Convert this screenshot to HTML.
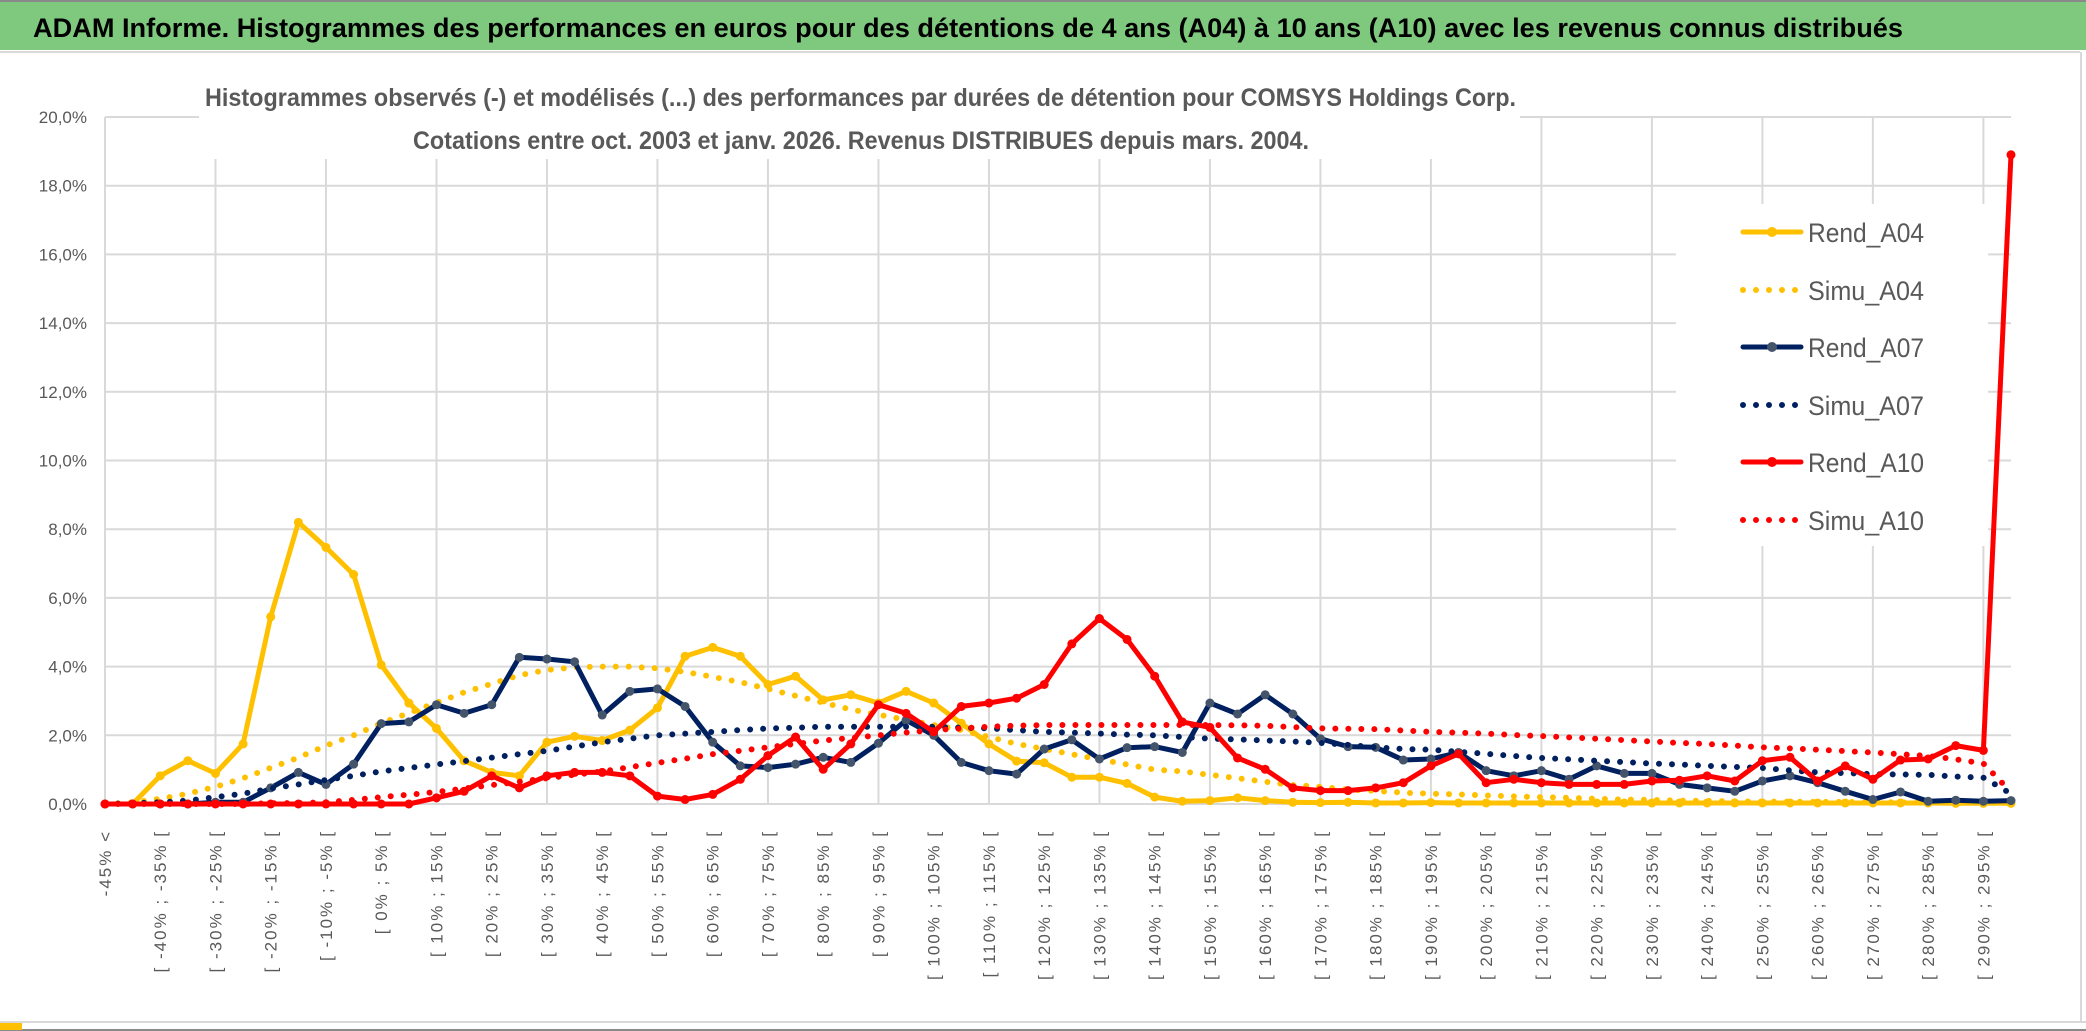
<!DOCTYPE html>
<html><head><meta charset="utf-8"><title>ADAM Informe</title>
<style>
html,body{margin:0;padding:0;background:#fff;}
svg{display:block;font-family:"Liberation Sans",sans-serif;}
</style></head>
<body>
<svg id="chart" width="2086" height="1031" viewBox="0 0 2086 1031" xmlns="http://www.w3.org/2000/svg">
  <rect x="0" y="0" width="2086" height="1031" fill="#ffffff"/>
  <rect x="0" y="0" width="2086" height="50" fill="#7fc97f"/>
  <rect x="0" y="0" width="2086" height="2" fill="#8a8a8a"/>
  <line x1="0" y1="52" x2="2080" y2="52" stroke="#d9d9d9" stroke-width="2"/>
  <text x="33" y="37" font-size="27" font-weight="bold" fill="#000" textLength="1870" lengthAdjust="spacingAndGlyphs">ADAM Informe. Histogrammes des performances en euros pour des détentions de 4 ans (A04) à 10 ans (A10) avec les revenus connus distribués</text>
  <line x1="2081" y1="52" x2="2081" y2="1022" stroke="#d9d9d9" stroke-width="2"/>
  <line x1="0" y1="1022" x2="2086" y2="1022" stroke="#d9d9d9" stroke-width="2"/>
  <line x1="0" y1="1030" x2="2086" y2="1030" stroke="#8a8a8a" stroke-width="2"/>
  <rect x="0" y="1023" width="22" height="7" fill="#ffc000"/>
  <g id="grid"></g>
  <rect x="199" y="60" width="1321" height="99" fill="#fff"/>
  <rect x="1676" y="204" width="312" height="342" fill="#fff"/>
  <g id="yaxis"></g>
  <g id="xaxis"></g>
  <g id="series"></g>
  <text x="205" y="106" font-size="25" font-weight="bold" fill="#595959" textLength="1311" lengthAdjust="spacingAndGlyphs">Histogrammes observés (-) et modélisés (...) des performances par durées de détention pour COMSYS Holdings Corp.</text>
  <text x="413" y="149" font-size="25" font-weight="bold" fill="#595959" textLength="896" lengthAdjust="spacingAndGlyphs">Cotations entre oct. 2003 et janv. 2026. Revenus DISTRIBUES depuis mars. 2004.</text>
  <g id="legend"></g>
</svg>
<script>
const rendA04 = [0,0,0.82,1.26,0.89,1.75,5.45,8.2,7.47,6.68,4.05,2.94,2.2,1.26,0.92,0.82,1.8,1.97,1.85,2.15,2.8,4.3,4.56,4.3,3.48,3.72,3.03,3.18,2.94,3.28,2.94,2.35,1.75,1.25,1.2,0.78,0.78,0.6,0.2,0.08,0.1,0.18,0.1,0.05,0.04,0.05,0.03,0.03,0.04,0.03,0.03,0.03,0.03,0.03,0.03,0.03,0.03,0.03,0.03,0.03,0.03,0.03,0.03,0.03,0.03,0.03,0.03,0.02,0.02,0.02];
const simuA04 = [0,0.05,0.15,0.3,0.5,0.75,1.05,1.35,1.7,2.0,2.35,2.65,2.95,3.25,3.5,3.75,3.9,3.98,4.0,4.0,3.95,3.85,3.7,3.55,3.35,3.15,2.95,2.75,2.6,2.45,2.3,2.15,1.95,1.75,1.6,1.45,1.3,1.15,1.0,0.95,0.85,0.75,0.65,0.55,0.5,0.42,0.38,0.33,0.3,0.28,0.25,0.22,0.2,0.18,0.15,0.13,0.12,0.1,0.09,0.08,0.07,0.07,0.06,0.06,0.05,0.05,0.04,0.04,0.04,0.03];
const rendA07 = [0,0,0,0,0.05,0.05,0.47,0.92,0.57,1.16,2.34,2.39,2.89,2.64,2.89,4.27,4.22,4.14,2.59,3.28,3.35,2.84,1.8,1.11,1.06,1.16,1.36,1.21,1.77,2.44,2.0,1.21,0.97,0.87,1.6,1.87,1.31,1.64,1.67,1.5,2.94,2.62,3.18,2.62,1.9,1.67,1.65,1.28,1.31,1.5,0.97,0.82,0.97,0.72,1.11,0.89,0.89,0.57,0.47,0.37,0.67,0.82,0.62,0.37,0.13,0.35,0.08,0.11,0.08,0.1];
const simuA07 = [0,0.02,0.05,0.1,0.2,0.3,0.45,0.57,0.7,0.82,0.95,1.05,1.15,1.25,1.35,1.45,1.55,1.67,1.8,1.9,2.0,2.05,2.1,2.15,2.2,2.22,2.25,2.25,2.25,2.25,2.25,2.22,2.2,2.15,2.1,2.08,2.05,2.02,2.0,1.95,1.9,1.88,1.85,1.82,1.78,1.72,1.65,1.6,1.58,1.52,1.46,1.4,1.34,1.3,1.26,1.22,1.18,1.15,1.11,1.08,1.05,0.98,0.92,0.9,0.87,0.86,0.85,0.8,0.77,0.3];
const rendA10 = [0,0,0,0,0,0,0,0,0,0,0,0,0.18,0.37,0.82,0.47,0.82,0.92,0.92,0.82,0.23,0.13,0.28,0.72,1.41,1.95,1.01,1.75,2.89,2.64,2.1,2.84,2.94,3.08,3.48,4.66,5.4,4.79,3.72,2.39,2.23,1.34,1.01,0.47,0.39,0.39,0.47,0.62,1.11,1.46,0.62,0.72,0.62,0.57,0.57,0.57,0.67,0.69,0.82,0.67,1.26,1.36,0.67,1.11,0.72,1.28,1.31,1.7,1.56,18.9];
const simuA10 = [0,0,0,0,0,0,0.02,0.03,0.05,0.12,0.2,0.27,0.35,0.45,0.55,0.65,0.75,0.85,0.95,1.07,1.2,1.32,1.45,1.55,1.65,1.75,1.85,1.92,2.0,2.08,2.15,2.2,2.25,2.28,2.3,2.3,2.3,2.3,2.3,2.3,2.3,2.29,2.28,2.24,2.2,2.19,2.18,2.14,2.1,2.08,2.05,2.01,1.98,1.94,1.9,1.86,1.82,1.78,1.75,1.7,1.65,1.62,1.58,1.54,1.5,1.45,1.4,1.3,1.18,0.35];
const yTicks = [0,2,4,6,8,10,12,14,16,18,20];
const yTickLabels = ["0,0%","2,0%","4,0%","6,0%","8,0%","10,0%","12,0%","14,0%","16,0%","18,0%","20,0%"];
const categories = ["-45% <"];
for (let k = 1; k < 70; k++) { const lo = -45 + 5 * (k - 1); categories.push("[ " + lo + "% ; " + (lo + 5) + "% ["); }
const seriesNames = ["Rend_A04","Simu_A04","Rend_A07","Simu_A07","Rend_A10","Simu_A10"];

const NS = "http://www.w3.org/2000/svg";
const X0 = 105, X1 = 2011, Y0 = 804, Y1 = 117;
const N = categories.length;
function xScale(i) { return X0 + (X1 - X0) * i / (N - 1); }
function yScale(v) { return Y0 - (Y0 - Y1) * v / 20; }
function mk(tag, attrs, parent) { const e = document.createElementNS(NS, tag); for (const k in attrs) e.setAttribute(k, attrs[k]); parent.appendChild(e); return e; }

const grid = document.getElementById('grid');
yTicks.forEach((t, i) => {
  const y = yScale(t);
  const l = mk('line', {x1: X0, y1: y, x2: X1, y2: y, stroke: '#d9d9d9', 'stroke-width': 2}, grid);
  
  
});
for (let i = 0; i < N; i += 4) {
  const x = xScale(i);
  const l = mk('line', {x1: x, y1: Y1, x2: x, y2: Y0, stroke: '#d9d9d9', 'stroke-width': 2}, grid);
  
  
}

const yaxis = document.getElementById('yaxis');
yTicks.forEach((t, i) => {
  const tx = mk('text', {x: 87, y: yScale(t) + 6, 'text-anchor': 'end', 'font-size': 17, fill: '#595959'}, yaxis);
  tx.textContent = yTickLabels[i];
  
  
});

const xaxis = document.getElementById('xaxis');
for (let i = 0; i < N - 1; i += 2) {
  const x = xScale(i) + 6;
  const tx = mk('text', {x: x, y: 830, 'text-anchor': 'end', 'font-size': 17, 'letter-spacing': 2, fill: '#595959', transform: 'rotate(-90 ' + x + ' 830)'}, xaxis);
  tx.textContent = categories[i];
  
  
}

const seriesLayer = document.getElementById('series');
function pts(arr) { return arr.map((v, i) => xScale(i).toFixed(1) + ',' + yScale(v).toFixed(1)).join(' '); }
function solid(arr, color, marker, name) {
  const g = mk('g', {}, seriesLayer);
  
  
  const pl = mk('polyline', {points: pts(arr), fill: 'none', stroke: color, 'stroke-width': 5, 'stroke-linejoin': 'round'}, g);
  
  
  arr.forEach((v, i) => {
    const c = mk('circle', {cx: xScale(i), cy: yScale(v), r: 4.5, fill: marker}, g);
    
    
  });
}
function dotted(arr, color, name) {
  const pl = mk('polyline', {points: pts(arr), fill: 'none', stroke: color, 'stroke-width': 6, 'stroke-linecap': 'round', 'stroke-dasharray': '0 13'}, seriesLayer);
  
  
}
solid(rendA04, '#ffc000', '#ffc000', 'rend-a04');
dotted(simuA04, '#ffc000', 'simu-a04');
solid(rendA07, '#002060', '#44546a', 'rend-a07');
dotted(simuA07, '#002060', 'simu-a07');
solid(rendA10, '#ff0000', '#ff0000', 'rend-a10');
dotted(simuA10, '#ff0000', 'simu-a10');

const legend = document.getElementById('legend');
const legColors = ['#ffc000','#ffc000','#002060','#002060','#ff0000','#ff0000'];
const legMarkers = ['#ffc000',null,'#44546a',null,'#ff0000',null];
const legY = [232,290,347,405,462,520];
seriesNames.forEach((s, i) => {
  const g = mk('g', {}, legend);
  
  
  const y = legY[i];
  if (legMarkers[i]) {
    mk('line', {x1: 1743, y1: y, x2: 1801, y2: y, stroke: legColors[i], 'stroke-width': 5, 'stroke-linecap': 'round'}, g);
    mk('circle', {cx: 1772, cy: y, r: 5, fill: legMarkers[i]}, g);
  } else {
    mk('line', {x1: 1743, y1: y, x2: 1800, y2: y, stroke: legColors[i], 'stroke-width': 6, 'stroke-linecap': 'round', 'stroke-dasharray': '0 13'}, g);
  }
  const t = mk('text', {x: 1808, y: y + 10, 'font-size': 27, fill: '#595959', textLength: 116, lengthAdjust: 'spacingAndGlyphs'}, g);
  t.textContent = s;
});
</script>
</body></html>
